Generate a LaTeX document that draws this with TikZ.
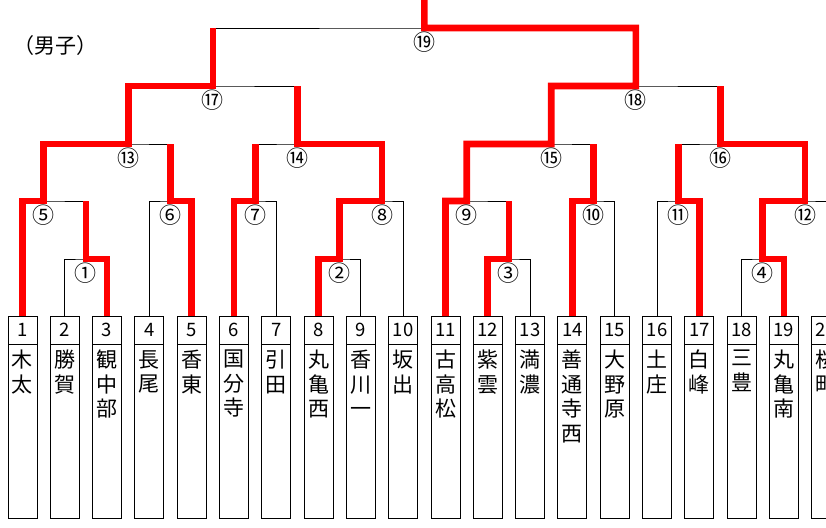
\documentclass[tikz,border=0pt]{standalone}
\usepackage{fontspec}
\newfontfamily\jp{Noto Sans CJK JP}
\begin{document}
\begin{tikzpicture}[x=1pt,y=-1pt,
  bk/.style={line width=0.9pt, black},
  rd/.style={line width=6.7pt, red, line join=miter},
  cell/.style={draw, line width=1pt, minimum width=29pt, inner sep=0pt, outer sep=0pt},
  num/.style={font=\jp\fontsize{18.5}{20}\selectfont},
  nm/.style={font=\jp\fontsize{21}{24.5}\selectfont, align=center, inner sep=0pt, anchor=north},
  lab/.style={font=\jp\fontsize{22}{24}\selectfont, inner sep=0pt}]
\useasboundingbox (0,0) rectangle (826,527);
\clip (0,0) rectangle (826,527);

% title
\node[font=\jp\fontsize{21}{22}\selectfont, inner sep=0pt] (title) at (55,46) {（男子）};

% boxes
\foreach \i/\nmtext in {1/木\\太, 2/勝\\賀, 3/観\\中\\部, 4/長\\尾, 5/香\\東, 6/国\\分\\寺, 7/引\\田, 8/丸\\亀\\西, 9/香\\川\\一, 10/坂\\出, 11/古\\高\\松, 12/紫\\雲, 13/満\\濃, 14/善\\通\\寺\\西, 15/大\\野\\原, 16/土\\庄, 17/白\\峰, 18/三\\豊, 19/丸\\亀\\南, 20/桜\\町} {
  \node[cell, num, minimum height=28pt, anchor=north west] (n\i) at ({8+(\i-1)*42.3},316) {\i};
  \node[cell, minimum height=174pt, anchor=north] (s\i) at (n\i.south) {};
  \node[nm] (t\i) at ([yshift=-6pt]s\i.north) {\nmtext};
  \coordinate (b\i) at (n\i.north);
}

% junctions
\foreach \k/\i/\lv in {1/2/259, 2/8/259, 3/12/259, 4/18/259, 5/1/201, 6/4/201, 7/6/201, 8/9/201, 9/11/201, 10/14/201, 11/16/201, 12/19/201, 13/3/144, 14/7/144, 15/13/144, 16/17/144, 17/5/86, 18/15/86, 19/10/28}
  \coordinate (j\k) at ({43.65+(\i-1)*42.3},\lv);
\coordinate (top) at (424.35,-10);

% black bracket
\draw[bk] (b2) |- (j1) -| (b3);
\draw[bk] (b8) |- (j2) -| (b9);
\draw[bk] (b12) |- (j3) -| (b13);
\draw[bk] (b18) |- (j4) -| (b19);
\draw[bk] (b1) |- (j5) -| (j1);
\draw[bk] (b4) |- (j6) -| (b5);
\draw[bk] (b6) |- (j7) -| (b7);
\draw[bk] (j2) |- (j8) -| (b10);
\draw[bk] (b11) |- (j9) -| (j3);
\draw[bk] (b14) |- (j10) -| (b15);
\draw[bk] (b16) |- (j11) -| (b17);
\draw[bk] (j4) |- (j12) -| (b20);
\draw[bk] (j5) |- (j13) -| (j6);
\draw[bk] (j7) |- (j14) -| (j8);
\draw[bk] (j9) |- (j15) -| (j10);
\draw[bk] (j11) |- (j16) -| (j12);
\draw[bk] (j13) |- (j17) -| (j14);
\draw[bk] (j15) |- (j18) -| (j16);
\draw[bk] (j17) |- (j19) -| (j18);
\draw[bk] (j19) -- (top);

% red winner paths
\draw[rd] (b1) |- (j5) |- (j13) |- (j17) -- (j17 |- j19);
\draw[rd] (b3) |- (j1) -- (j1 |- j5);
\draw[rd] (b5) |- (j6) -- (j6 |- j13);
\draw[rd] (b6) |- (j7) -- (j7 |- j14);
\draw[rd] (b8) |- (j2) |- (j8) |- (j14) -- (j14 |- j17);
\draw[rd] (b11) |- (j9) |- (j15) |- (j18) |- (j19) -- (top);
\draw[rd] (b12) |- (j3) -- (j3 |- j9);
\draw[rd] (b14) |- (j10) -- (j10 |- j15);
\draw[rd] (b17) |- (j11) -- (j11 |- j16);
\draw[rd] (b19) |- (j4) |- (j12) |- (j16) -- (j16 |- j18);

% match labels
\foreach \k/\c in {1/①, 2/②, 3/③, 4/④, 5/⑤, 6/⑥, 7/⑦, 8/⑧, 9/⑨, 10/⑩, 11/⑪, 12/⑫, 13/⑬, 14/⑭, 15/⑮, 16/⑯, 17/⑰, 18/⑱, 19/⑲}
  \node[lab, yshift=-14pt] (l\k) at (j\k) {\c};
\end{tikzpicture}
\end{document}
